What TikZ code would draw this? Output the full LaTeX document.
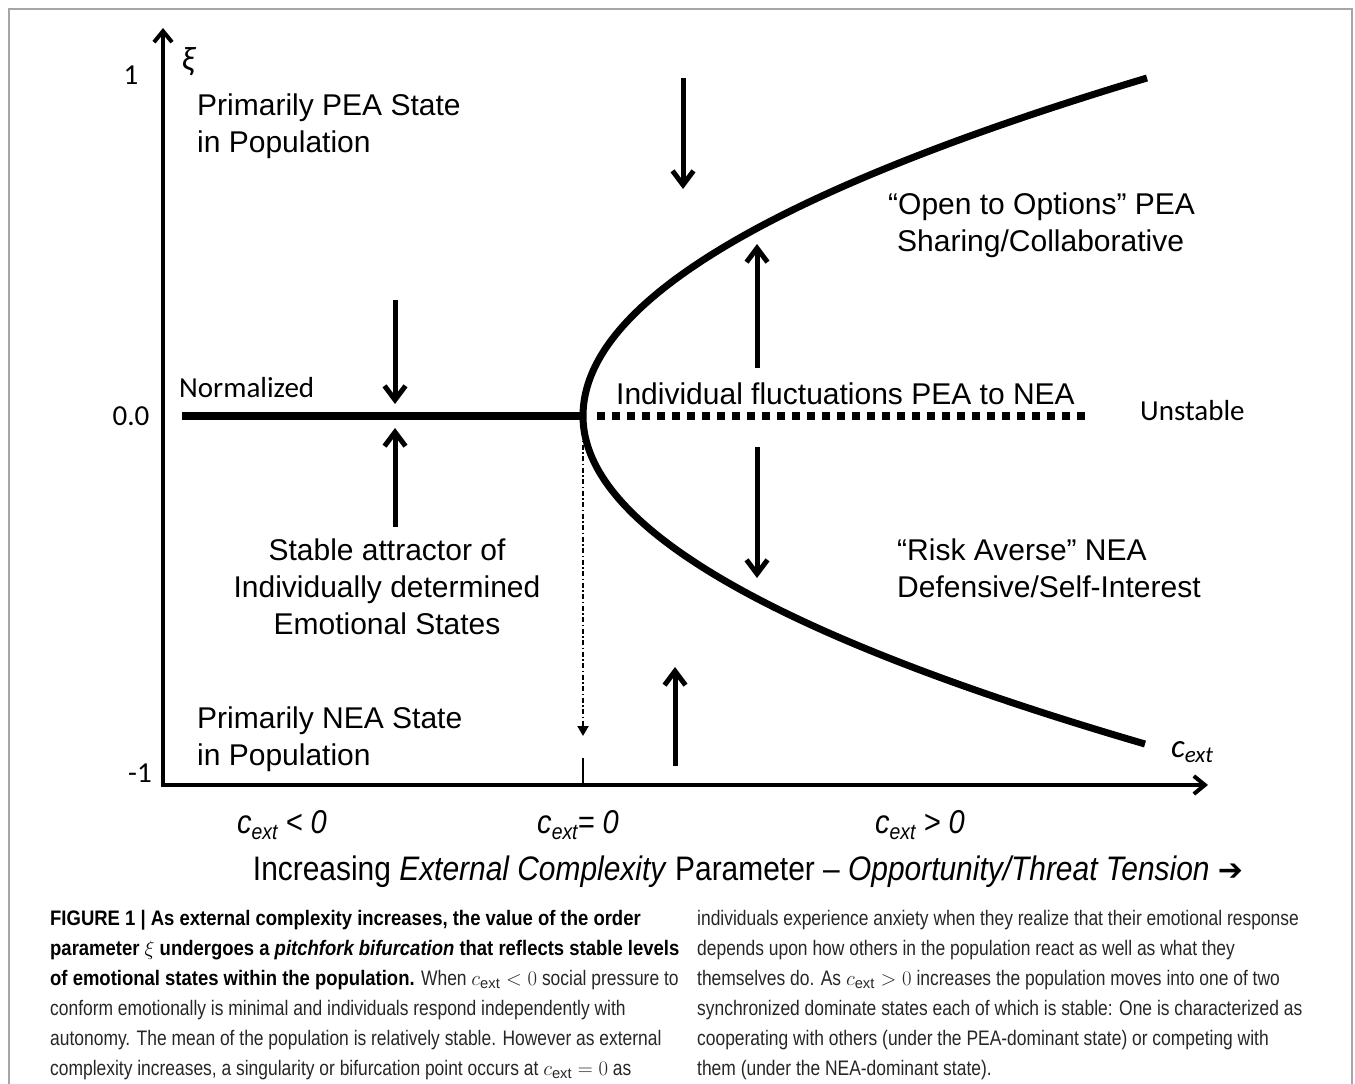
\documentclass[tikz,border=0pt]{standalone}
\usepackage{fontspec}
\setmainfont{Liberation Sans}
\newfontfamily\califont{Carlito}
\newfontfamily\narrowfont[FakeStretch=0.88]{Liberation Sans}
\newfontfamily\captfont[FakeStretch=0.83]{Liberation Sans}
\newfontfamily\arrowfont{DejaVu Sans}
\usetikzlibrary{arrows.meta}

\newcommand{\cextsub}[1]{c\raisebox{-.35ex}{\fontsize{#1}{#1}\selectfont ext}}
\newcommand{\captbold}[1]{{\narrowfont\bfseries\color{black}#1}}

\begin{document}
\begin{tikzpicture}[x=1pt,y=-1pt,
    axis/.style={line width=4pt,-{Straight Barb[length=11pt,width=18pt,line width=4pt]}},
    branch/.style={line width=7pt},
    push/.style={line width=5pt,-{Straight Barb[length=14pt,width=21pt,line width=5pt]}},
    lab/.style={inner sep=0pt,font=\fontsize{30}{37}\selectfont},
    cal/.style={inner sep=0pt,font=\califont\fontsize{29}{34}\selectfont},
    bottom/.style={inner sep=0pt,font=\narrowfont\itshape\fontsize{33}{36}\selectfont},
    capt/.style={inner sep=0pt,anchor=north west,align=left,text=black!85,
        font=\captfont\fontsize{21}{30}\selectfont}]
    \useasboundingbox (0,0) rectangle (1355,1084);

    % Rahmen
    \draw[gray!70,line width=2pt] (9,1100) -- (9,9) -- (1352,9) -- (1352,1100);

    % Achsen
    \coordinate (o) at (163,785);
    \coordinate (ytop) at (163,28);
    \coordinate (xend) at (1208,785);
    \draw[axis] ([yshift=2pt]o) -- (ytop);
    \draw[axis] ([xshift=-2pt]o) -- (xend);
    \node[cal] (one) at (131,75) {1};
    \node[cal] (zero) at (131,416) {0.0};
    \node[cal] (minusone) at (140,773) {-1};
    \node[cal,font=\califont\itshape\fontsize{34}{34}\selectfont] (xi) at (188,62) {ξ};
    \node[cal,font=\califont\itshape\fontsize{33}{34}\selectfont] (cext) at (1192,752) {\cextsub{23}};

    % Aeste
    \coordinate (bif) at (583,416);
    \coordinate (left) at (182,416);
    \coordinate (dotend) at (1085,416);
    \draw[line width=8pt] (left) -- (bif);
    \draw[line width=8pt,dash pattern=on 8pt off 7pt] ([xshift=14pt]bif) -- (dotend);
    \draw[branch] plot[domain=0:338,samples=80] ({583+564*(\x/338)^2},{416-\x});
    \draw[branch] plot[domain=0:328,samples=80] ({583+562*(\x/328)^2},{416+\x});

    % Markierung bei c_ext = 0
    \coordinate (drop) at (583,736);
    \coordinate (tick) at (583,758);
    \draw[line width=2pt,dash pattern=on 5pt off 2.5pt on 1.5pt off 2.5pt,
        -{Triangle[length=10pt,width=11pt]}] ([yshift=6pt]bif) -- (drop);
    \draw[line width=2pt] (tick) -- (o -| tick);

    % Pfeile
    \coordinate (a1s) at (395,300); \coordinate (a1e) at (395,404);
    \coordinate (a2s) at (395,527); \coordinate (a2e) at (395,428);
    \coordinate (a3s) at (683,78);  \coordinate (a3e) at (683,189);
    \coordinate (a4s) at (757,368); \coordinate (a4e) at (757,244);
    \coordinate (a5s) at (757,447); \coordinate (a5e) at (757,578);
    \coordinate (a6s) at (675,766); \coordinate (a6e) at (675,667);
    \foreach \i in {1,...,6}
        \draw[push] (a\i s) -- (a\i e);

    % Beschriftungen
    \node[lab,anchor=west,align=left] (pea) at (197,126.5) {Primarily PEA State\\in Population};
    \node[lab,anchor=west,align=left] (nea) at (197,739) {Primarily NEA State\\in Population};
    \node[cal,anchor=west] (norm) at (179,388) {Normalized};
    \node[cal,anchor=west] (unst) at (1140,411) {Unstable};
    \node[lab,anchor=west] (fluct) at (616,394) {Individual fluctuations PEA to NEA};
    \node[lab,anchor=west,align=left] (open) at (888,225) {“Open to Options” PEA\\\hspace*{9pt}Sharing/Collaborative};
    \node[lab,anchor=west,align=left] (risk) at (897,568) {“Risk Averse” NEA\\Defensive/Self-Interest};
    \node[lab,align=center] (stab) at (387,587) {Stable attractor of\\Individually determined\\Emotional States};

    % x-Achse unten
    \node[bottom] (neg) at (282,825) {\cextsub{22} < 0};
    \node[bottom] (nul) at (578,825) {\cextsub{22}= 0};
    \node[bottom] (pos) at (920,825) {\cextsub{22} > 0};
    \node[inner sep=0pt,font=\narrowfont\fontsize{34}{36}\selectfont] (param) at (748,872)
        {Increasing \textit{External Complexity} Parameter – \textit{Opportunity/Threat Tension} {\arrowfont\bfseries\fontsize{30}{30}\selectfont ➔}};

    % Bildunterschrift
    \node[capt] (captl) at (50,910) {\captbold{FIGURE 1 | As external complexity increases, the value of the order}\\
        \captbold{parameter $\xi$ undergoes a \textit{pitchfork bifurcation} that reflects stable levels}\\
        \captbold{of emotional states within the population.} When $c_{\mathrm{ext}}<0$ social pressure to\\
        conform emotionally is minimal and individuals respond independently with\\
        autonomy. The mean of the population is relatively stable. However as external\\
        complexity increases, a singularity or bifurcation point occurs at $c_{\mathrm{ext}}=0$ as};
    \node[capt] (captr) at (697,910) {individuals experience anxiety when they realize that their emotional response\\
        depends upon how others in the population react as well as what they\\
        themselves do. As $c_{\mathrm{ext}}>0$ increases the population moves into one of two\\
        synchronized dominate states each of which is stable: One is characterized as\\
        cooperating with others (under the PEA-dominant state) or competing with\\
        them (under the NEA-dominant state).};
\end{tikzpicture}
\end{document}
